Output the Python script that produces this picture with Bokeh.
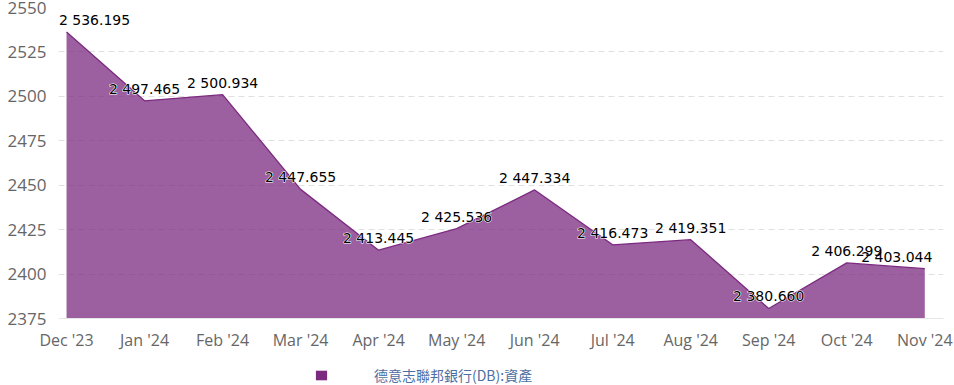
from bokeh.plotting import figure
from bokeh.layouts import column
from bokeh.models import ColumnDataSource, FixedTicker, Legend, LegendItem, CustomJSTickFormatter
from bokeh.core.properties import value
from bokeh.embed import file_html
from bokeh.resources import INLINE

months = ["Dec '23", "Jan '24", "Feb '24", "Mar '24", "Apr '24", "May '24",
          "Jun '24", "Jul '24", "Aug '24", "Sep '24", "Oct '24", "Nov '24"]
assets = [2536.195, 2497.465, 2500.934, 2447.655, 2413.445, 2425.536,
          2447.334, 2416.473, 2419.351, 2380.660, 2406.299, 2403.044]
y_ticks = [2375, 2400, 2425, 2450, 2475, 2500, 2525, 2550]
series_name = "德意志聯邦銀行(DB):資產"

FILL = "#7b2a80"

def fmt(v):
    s = f"{v:,.3f}"
    return s.replace(",", " ")

xs = list(range(len(months)))
labels = [fmt(v) for v in assets]
# labels at the plot edges are nudged inward to stay inside the plot area
label_dx = [28] + [0] * (len(months) - 2) + [-28]

src = ColumnDataSource(dict(x=xs, y=assets, base=[y_ticks[0]] * len(xs),
                            label=labels, dx=label_dx))

p = figure(width=954, height=353, output_backend="svg", toolbar_location=None,
           x_range=(-0.103, 11.24), y_range=(2375, 2550),
           min_border_top=7, min_border_left=58, min_border_right=11,
           min_border_bottom=27)
p.outline_line_color = None
p.background_fill_color = "white"

area = p.varea(x="x", y1="base", y2="y", source=src, fill_color=FILL, fill_alpha=0.75)
p.line(x="x", y="y", source=src, line_color=FILL, line_width=1.3)

# white halo under the data labels, then the labels themselves
p.text(x="x", y="y", text="label", source=src, x_offset="dx", y_offset=-4,
       text_align="center", text_baseline="bottom", text_font=value("DejaVu Sans"),
       text_font_size="14px", text_color="white", outline_color="white")
p.text(x="x", y="y", text="label", source=src, x_offset="dx", y_offset=-4,
       text_align="center", text_baseline="bottom", text_font=value("DejaVu Sans"),
       text_font_size="14px", text_color="black")

p.xgrid.grid_line_color = None
p.ygrid.grid_line_color = "#e0e0e0"
p.ygrid.grid_line_dash = "6 4"
p.ygrid.grid_line_width = 1

p.yaxis.ticker = FixedTicker(ticks=y_ticks)
p.xaxis.ticker = FixedTicker(ticks=xs)
p.xaxis.formatter = CustomJSTickFormatter(args=dict(m=months), code="return m[tick];")
for ax in (p.xaxis, p.yaxis):
    ax.axis_line_color = None
    ax.major_tick_line_color = None
    ax.minor_tick_line_color = None
    ax.major_label_text_font = "Open Sans"
    ax.major_label_text_font_size = "16px"
    ax.major_label_text_color = "#666666"
p.yaxis.major_label_text_font_size = "17px"
p.xaxis.axis_line_color = "#e6e6e6"
p.yaxis.major_label_standoff = 6
p.xaxis.major_label_standoff = 4

# legend strip below the chart (swatch renderer lies outside the strip's visible range)
lg = figure(width=954, height=32, output_backend="svg", toolbar_location=None,
            x_range=(0, 1), y_range=(0, 1), min_border=0)
lg.axis.visible = False
lg.grid.grid_line_color = None
lg.outline_line_color = None
swatch = lg.quad(left=[5], right=[6], bottom=[5], top=[6], fill_color=FILL, line_color=None)
legend = Legend(items=[LegendItem(label=series_name, renderers=[swatch])],
                location=(256, 0), orientation="horizontal",
                label_text_font="Noto Sans CJK TC", label_text_font_size="14px",
                label_text_color="#4e6fa3", label_standoff=46,
                glyph_width=14, glyph_height=12, border_line_color=None,
                background_fill_alpha=0, margin=0, padding=0)
lg.add_layout(legend, "center")

layout = column(p, lg, spacing=0)
open("out.html", "w").write(file_html(layout, INLINE))
